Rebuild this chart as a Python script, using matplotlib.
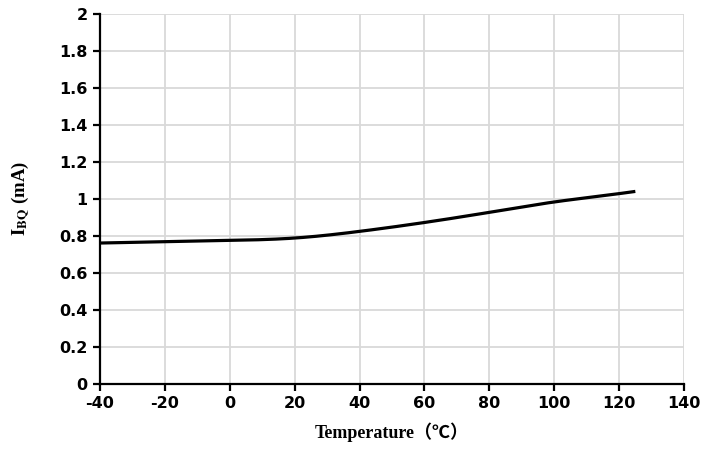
import matplotlib
matplotlib.use("Agg")
import matplotlib.pyplot as plt
import numpy as np

# Quiescent current vs. temperature
temperature = [-40, -20, 0, 20, 40, 60, 80, 100, 120, 125]
ibq_ma = [0.762, 0.769, 0.776, 0.789, 0.825, 0.873, 0.928, 0.984, 1.029, 1.041]

x_ticks = [-40, -20, 0, 20, 40, 60, 80, 100, 120, 140]
y_ticks = [0, 0.2, 0.4, 0.6, 0.8, 1.0, 1.2, 1.4, 1.6, 1.8, 2.0]
y_tick_labels = ["0", "0.2", "0.4", "0.6", "0.8", "1", "1.2", "1.4", "1.6", "1.8", "2"]

plt.rcParams["mathtext.fontset"] = "stix"
plt.rcParams["axes.unicode_minus"] = False


def natural_spline(t, v, xs):
    t = np.asarray(t, float)
    v = np.asarray(v, float)
    n = len(t)
    h = np.diff(t)
    A = np.zeros((n, n))
    b = np.zeros(n)
    A[0, 0] = A[-1, -1] = 1.0
    for i in range(1, n - 1):
        A[i, i - 1] = h[i - 1]
        A[i, i] = 2 * (h[i - 1] + h[i])
        A[i, i + 1] = h[i]
        b[i] = 6 * ((v[i + 1] - v[i]) / h[i] - (v[i] - v[i - 1]) / h[i - 1])
    M = np.linalg.solve(A, b)
    idx = np.clip(np.searchsorted(t, xs) - 1, 0, n - 2)
    hi = h[idx]
    a = t[idx + 1] - xs
    c = xs - t[idx]
    return (M[idx] * a**3 / (6 * hi) + M[idx + 1] * c**3 / (6 * hi)
            + (v[idx] / hi - M[idx] * hi / 6) * a
            + (v[idx + 1] / hi - M[idx + 1] * hi / 6) * c)


fig = plt.figure(figsize=(7.14, 4.51), dpi=100)
ax = fig.add_axes([100 / 714, 1 - 384 / 451, 584 / 714, 370 / 451])

xs = np.linspace(temperature[0], temperature[-1], 400)
ys = natural_spline(temperature, ibq_ma, xs)
ax.plot(xs, ys, color="black", lw=2.3, solid_capstyle="butt", zorder=3)

ax.set_xlim(-40, 140)
ax.set_ylim(0, 2)
ax.set_xticks(x_ticks)
ax.set_yticks(y_ticks)
ax.set_yticklabels(y_tick_labels)
ax.grid(True, color="#d9d9d9", lw=1.3, zorder=0)
ax.set_axisbelow(True)

for side in ("top", "right"):
    ax.spines[side].set_visible(False)
for side in ("left", "bottom"):
    ax.spines[side].set_linewidth(1.6)
    ax.spines[side].set_color("black")

ax.tick_params(direction="out", length=5, width=1.6, labelsize=11.5, pad=4)
for lab in ax.get_xticklabels() + ax.get_yticklabels():
    lab.set_fontweight("bold")
    lab.set_fontfamily("DejaVu Sans")

ax.set_xlabel("Temperature（℃）", family=["Liberation Serif", "Noto Sans CJK SC"],
              fontweight="bold", fontsize=13, labelpad=8)
ax.set_ylabel(r"$\mathbf{I}_{\mathbf{BQ}}$ (mA)", family="Liberation Serif",
              fontweight="bold", fontsize=13.5, labelpad=20)

fig.savefig("out.png", dpi=100)
